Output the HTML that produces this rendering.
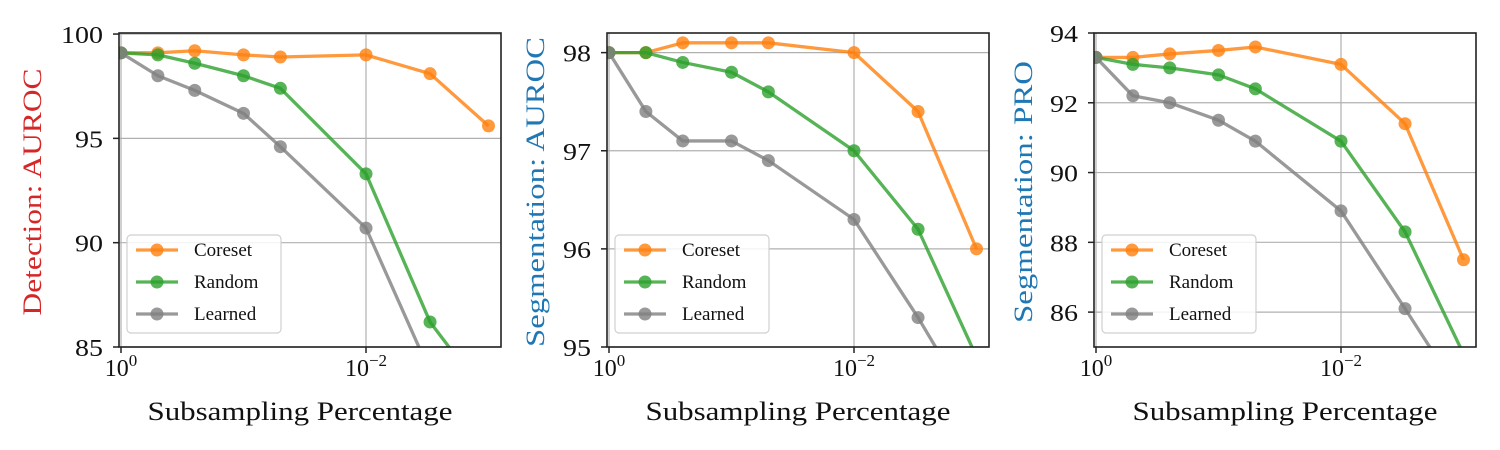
<!DOCTYPE html>
<html><head><meta charset="utf-8"><style>
html,body{margin:0;padding:0;background:#fff;}
svg{display:block;font-family:"Liberation Serif",serif;}
</style></head><body>
<svg id="chart" width="1500" height="450" viewBox="0 0 1500 450"></svg>
<script>
const xValues = [1, 0.5, 0.25, 0.1, 0.05, 0.01, 0.003, 0.001];
const seriesNames = ["Coreset", "Random", "Learned"];
const p1Coreset = [99.1, 99.1, 99.2, 99.0, 98.9, 99.0, 98.1, 95.6];
const p1Random = [99.1, 99.0, 98.6, 98.0, 97.4, 93.3, 86.2, 82.5];
const p1Learned = [99.1, 98.0, 97.3, 96.2, 94.6, 90.7, 83.8, 80.0];
const p2Coreset = [98.0, 98.0, 98.1, 98.1, 98.1, 98.0, 97.4, 96.0];
const p2Random = [98.0, 98.0, 97.9, 97.8, 97.6, 97.0, 96.2, 94.9];
const p2Learned = [98.0, 97.4, 97.1, 97.1, 96.9, 96.3, 95.3, 94.3];
const p3Coreset = [93.3, 93.3, 93.4, 93.5, 93.6, 93.1, 91.4, 87.5];
const p3Random = [93.3, 93.1, 93.0, 92.8, 92.4, 90.9, 88.3, 84.8];
const p3Learned = [93.3, 92.2, 92.0, 91.5, 90.9, 88.9, 86.1, 83.5];
const p1Ticks = [85, 90, 95, 100];
const p2Ticks = [95, 96, 97, 98];
const p3Ticks = [86, 88, 90, 92, 94];

const NS = "http://www.w3.org/2000/svg";
const svg = document.getElementById("chart");
const colors = ["#ff7f0e", "#2ca02c", "#7f7f7f"];
function mk(tag, attrs, parent) {
  const e = document.createElementNS(NS, tag);
  for (const k in attrs) e.setAttribute(k, attrs[k]);
  (parent || svg).appendChild(e);
  return e;
}
const panels = [
  {left:119, x0:121, ymin:85, ymax:100.05, ticks:p1Ticks, data:[p1Coreset,p1Random,p1Learned], label:"Detection: AUROC", lc:"#d62728", name:"detection", lx:41, ll:247, xc:300},
  {left:607, x0:609, ymin:95, ymax:98.2, ticks:p2Ticks, data:[p2Coreset,p2Random,p2Learned], label:"Segmentation: AUROC", lc:"#1f77b4", name:"seg-auroc", lx:544, ll:310, xc:798},
  {left:1094, x0:1096, ymin:85, ymax:94, ticks:p3Ticks, data:[p3Coreset,p3Random,p3Learned], label:"Segmentation: PRO", lc:"#1f77b4", name:"seg-pro", lx:1032, ll:262, xc:1285}
];
const axTop = 33, axBottom = 347, axWidth = 382, decade = 122.5;
panels.forEach((p, pi) => {
  const g = mk("g", {});
  
  
  const xs = v => p.x0 - Math.log10(v) * decade;
  const ys = v => axBottom - (v - p.ymin) / (p.ymax - p.ymin) * (axBottom - axTop);
  const right = p.left + axWidth;
  const cid = "clip" + pi;
  const cp = mk("clipPath", {id: cid}, g);
  mk("rect", {x: p.left, y: axTop, width: axWidth, height: axBottom - axTop}, cp);
  [1, 0.01].forEach(v => {
    const l = mk("line", {x1: xs(v), x2: xs(v), y1: axTop, y2: axBottom, stroke: "#b0b0b0", "stroke-width": 1.2}, g);
    
    
  });
  p.ticks.forEach(v => {
    const l = mk("line", {x1: p.left, x2: right, y1: ys(v), y2: ys(v), stroke: "#b0b0b0", "stroke-width": 1.2}, g);
    
    
    mk("line", {x1: p.left - 6, x2: p.left, y1: ys(v), y2: ys(v), stroke: "#222", "stroke-width": 1.5}, g);
    const s = String(v);
    const t = mk("text", {x: p.left - 16, y: ys(v) + 9, "text-anchor": "end", "font-size": 24, fill: "#111", textLength: 14 * s.length, lengthAdjust: "spacingAndGlyphs"}, g);
    t.textContent = s;
    
    
  });
  [[1, "0"], [0.01, "−2"]].forEach(([v, e]) => {
    mk("line", {x1: xs(v), x2: xs(v), y1: axBottom, y2: axBottom + 6, stroke: "#222", "stroke-width": 1.5}, g);
    const t = mk("text", {x: xs(v), y: axBottom + 29, "text-anchor": "middle", "font-size": 24, fill: "#111"}, g);
    t.textContent = "10";
    const s = mk("tspan", {dy: -10, "font-size": 17}, t);
    s.textContent = e;
    
    
  });
  const sg = mk("g", {"clip-path": "url(#" + cid + ")"}, g);
  p.data.forEach((arr, si) => {
    const pts = arr.map((v, i) => xs(xValues[i]) + "," + ys(v)).join(" ");
    const pl = mk("polyline", {points: pts, fill: "none", stroke: colors[si], "stroke-width": 3.3, "stroke-opacity": 0.8, "stroke-linejoin": "round"}, sg);
    
    
    arr.forEach((v, i) => {
      const c = mk("circle", {cx: xs(xValues[i]), cy: ys(v), r: 6.5, fill: colors[si], "fill-opacity": 0.8}, sg);
      
      
    });
  });
  const fr = mk("rect", {x: p.left, y: axTop, width: axWidth, height: axBottom - axTop, fill: "none", stroke: "#222", "stroke-width": 1.6}, g);
  
  
  const lg = mk("g", {}, g);
  
  
  mk("rect", {x: p.left + 8, y: 235, width: 154, height: 98, rx: 4, fill: "#fff", "fill-opacity": 0.85, stroke: "#d0d0d0", "stroke-width": 1.2}, lg);
  seriesNames.forEach((n, si) => {
    const y = 250 + si * 32;
    mk("line", {x1: p.left + 17, x2: p.left + 59, y1: y, y2: y, stroke: colors[si], "stroke-width": 3.3, "stroke-opacity": 0.8}, lg);
    mk("circle", {cx: p.left + 38, cy: y, r: 6.5, fill: colors[si], "fill-opacity": 0.8}, lg);
    const t = mk("text", {x: p.left + 75, y: y + 6, "font-size": 19, fill: "#111"}, lg);
    t.textContent = n;
    
    
  });
  const xl = mk("text", {x: p.xc, y: 420, "text-anchor": "middle", "font-size": 26, fill: "#111", textLength: 305, lengthAdjust: "spacingAndGlyphs"}, g);
  xl.textContent = "Subsampling Percentage";
  
  
  const cy = 192;
  const yl = mk("text", {x: p.lx, y: cy, "text-anchor": "middle", "font-size": 26, fill: p.lc, textLength: p.ll, lengthAdjust: "spacingAndGlyphs", transform: "rotate(-90 " + p.lx + " " + cy + ")"}, g);
  yl.textContent = p.label;
  
  
});
</script>
</body></html>
